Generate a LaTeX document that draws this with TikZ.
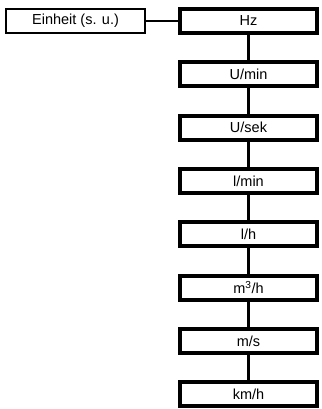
\documentclass[tikz,border=0pt]{standalone}
\usepackage{fontspec}
\setmainfont{Liberation Sans}
\usetikzlibrary{positioning}

\begin{document}
\begin{tikzpicture}[x=1pt,y=1pt,node distance=25.35pt,
    unit/.style={draw,line width=4pt,minimum width=137pt,minimum height=24pt,
      inner sep=0pt,font=\fontsize{14.5}{16}\selectfont},
    source/.style={draw,line width=2pt,minimum width=139pt,minimum height=24pt,
      inner sep=0pt,font=\fontsize{14.5}{16}\selectfont},
    link/.style={line width=2.5pt}]
    \useasboundingbox (0,0) rectangle (321,-409);

    \node[source] (einheit) at (75.5,-21) {Einheit (s. u.)};
    \node[unit] (hz) at (248.5,-21) {Hz};
    \node[unit,below=of hz]   (umin) {U/min};
    \node[unit,below=of umin] (usek) {U/sek};
    \node[unit,below=of usek] (lmin) {l/min};
    \node[unit,below=of lmin] (lh)   {l/h};
    \node[unit,below=of lh]   (mh)   {m\textsuperscript{3}/h};
    \node[unit,below=of mh]   (ms)   {m/s};
    \node[unit,below=of ms]   (kmh)  {km/h};

    \draw[line width=1.2pt] (einheit) -- (hz);
    \draw[link] (hz) -- (umin);
    \draw[link] (umin) -- (usek);
    \draw[link] (usek) -- (lmin);
    \draw[link] (lmin) -- (lh);
    \draw[link] (lh) -- (mh);
    \draw[link] (mh) -- (ms);
    \draw[link] (ms) -- (kmh);
  \end{tikzpicture}
\end{document}
